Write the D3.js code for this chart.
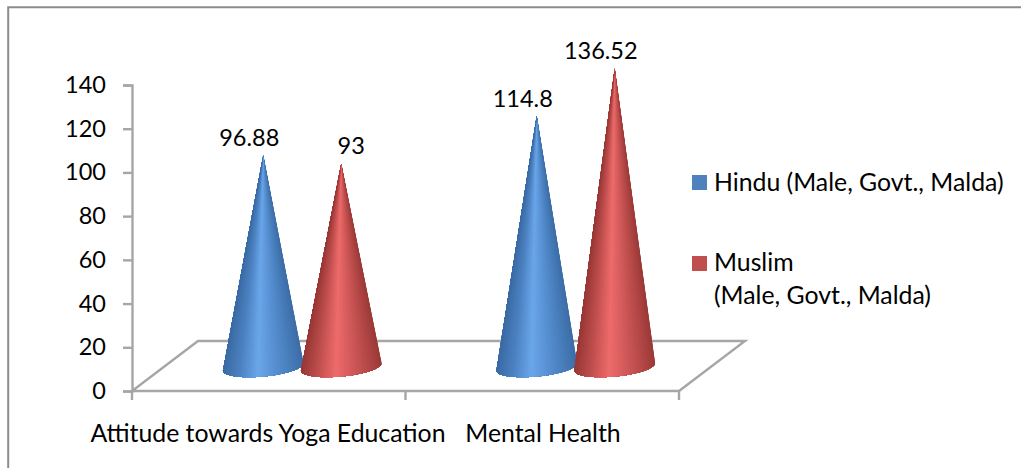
<!DOCTYPE html>
<html>
<head>
<meta charset="utf-8">
<script src="https://cdn.jsdelivr.net/npm/d3@7/dist/d3.min.js"></script>
<style>
  html, body { margin: 0; padding: 0; background: #fff; }
  svg { display: block; }
  text { font-family: Lato, "Open Sans", sans-serif; fill: #000; }
</style>
</head>
<body>
<svg id="chart" width="1021" height="468"></svg>
<script>
const categories = ["Attitude towards Yoga Education", "Mental Health"];
const seriesNames = ["Hindu (Male, Govt., Malda)", "Muslim"];
const legendSecondLine = "(Male, Govt., Malda)";
const hinduValues = [96.88, 114.8];
const muslimValues = [93, 136.52];
const valueTicks = [0, 20, 40, 60, 80, 100, 120, 140];

const svg = d3.select("#chart");
const axisColor = "#a6a6a6";
const WORD_FONT = 24.8, DIGIT_FONT = 23.5;

// Oblique floor depth: the back edge of the floor is shifted right and up.
const depthX = 66, depthY = 50;

const x = d3.scaleBand().domain(categories).range([132, 679]);
const y = d3.scaleLinear().domain([0, 140]).range([391, 85]);
// Cones stand partway back on the floor, so their baseline sits above the axis baseline.
const coneLift = 24;
const coneY = v => y(v) - coneLift;
const seriesX = d3.scaleBand().domain(["hindu", "muslim"]).range([-78, 78]);

// Shading across a cone's surface, from its left silhouette (0) to its right one (1)
const shadeStops = [0, 0.2, 0.58, 0.8, 1];
const shade = {
  hindu: d3.scaleLinear().domain(shadeStops).range(["#3d6da6", "#4a80bf", "#6aa6ea", "#4c82c2", "#3b6ba4"]),
  muslim: d3.scaleLinear().domain(shadeStops).range(["#9a3a38", "#b94b4a", "#ee6b6b", "#c04f4e", "#983836"])
};

// Frame: only the top and left edges fall inside the page
svg.append("path").attr("d", "M8.2,468V7.2H1021")
  .attr("fill", "none").attr("stroke", "#8c8c8c").attr("stroke-width", 2);

// Floor parallelogram
const x0 = x.range()[0], x1 = x.range()[1], yBase = y(0);
svg.append("path")
  .attr("d", d3.line()([[x0, yBase], [x1, yBase], [x1 + depthX, yBase - depthY], [x0 + depthX, yBase - depthY]]) + "Z")
  .attr("fill", "none").attr("stroke", axisColor).attr("stroke-width", 2.4);

// Value axis
const yAxis = svg.append("g").attr("transform", `translate(${x0},0)`)
  .call(d3.axisLeft(y).tickValues(valueTicks).tickSize(9).tickPadding(17));
yAxis.select(".domain").attr("stroke", axisColor).attr("stroke-width", 2.4);
yAxis.selectAll(".tick line").attr("stroke", axisColor).attr("stroke-width", 2.4);
yAxis.selectAll("text").style("font-size", DIGIT_FONT + "px").style("font-family", "Lato");

// Category axis ticks and labels
const edgeTicks = [x0, x0 + x.bandwidth(), x1];
svg.append("g").selectAll("line").data(edgeTicks).join("line")
  .attr("x1", d => d).attr("x2", d => d).attr("y1", yBase).attr("y2", yBase + 9)
  .attr("stroke", axisColor).attr("stroke-width", 2.4);
const categoryLabelX = [268, 543];
svg.append("g").selectAll("text").data(categories).join("text")
  .attr("x", (d, i) => categoryLabelX[i]).attr("y", 441.5)
  .attr("text-anchor", "middle").style("font-size", WORD_FONT + "px").text(d => d);

const marks = [];
categories.forEach((c, i) => {
  marks.push({ cat: c, key: "hindu", value: hinduValues[i], nudge: -14 });
  marks.push({ cat: c, key: "muslim", value: muslimValues[i], nudge: i === 0 ? 10 : -14 });
});
const cx = d => x(d.cat) + x.bandwidth() / 2 + depthX / 2 + seriesX(d.key) + seriesX.bandwidth() / 2 + 0.5;

// Cones: layered fans from the apex to a tilted elliptical base. Each layer starts
// one step further left and paints over the rest, so no seams show between steps,
// and the shading narrows towards the tip the way it does on a real cone.
const rx = 40.5, ry = 9.5, tilt = -5.5 * Math.PI / 180, stepCount = 60;
function basePoint(d, step) {
  const theta = Math.PI * step / stepCount;
  const ex = rx * Math.cos(theta), ey = ry * Math.sin(theta);
  return [cx(d) + ex * Math.cos(tilt) - ey * Math.sin(tilt),
          coneY(0) + ex * Math.sin(tilt) + ey * Math.cos(tilt)];
}
const steps = d3.range(stepCount);
svg.append("g").selectAll("g").data(marks).join("g").each(function (d) {
  const apex = [cx(d), coneY(d.value)];
  d3.select(this).selectAll("path").data(steps).join("path")
    .attr("d", i => d3.line()([apex, ...d3.range(i, stepCount + 1).map(s => basePoint(d, s))]) + "Z")
    .attr("fill", i => shade[d.key]((1 - Math.cos(Math.PI * (i + 0.5) / stepCount)) / 2));
});

// Value labels above each apex
svg.append("g").selectAll("text").data(marks).join("text")
  .attr("x", d => cx(d) + d.nudge).attr("y", d => coneY(d.value) - 9.5)
  .attr("text-anchor", "middle").style("font-size", DIGIT_FONT + "px")
  .text(d => d3.format("")(d.value));

// Legend
const legendColors = ["#4f81bd", "#c0504d"];
const swatchY = [182.5, 263.5];
const legendTextY = [191, 271];
const legend = svg.append("g");
legend.selectAll("rect").data(seriesNames).join("rect")
  .attr("x", 692).attr("y", (d, i) => swatchY[i] - 7.5)
  .attr("width", 15).attr("height", 15)
  .attr("fill", (d, i) => legendColors[i]);
legend.selectAll("text.name").data(seriesNames).join("text").attr("class", "name")
  .attr("x", 714).attr("y", (d, i) => legendTextY[i])
  .style("font-size", WORD_FONT + "px").text(d => d);
legend.append("text").attr("x", 714).attr("y", 304)
  .style("font-size", WORD_FONT + "px").text(legendSecondLine);
</script>
</body>
</html>
